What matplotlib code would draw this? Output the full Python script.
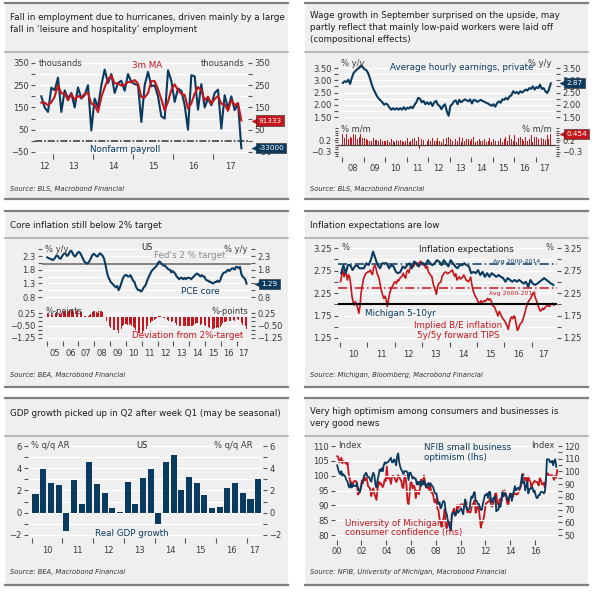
import numpy as np
import pandas as pd
import matplotlib
matplotlib.use("Agg")
import matplotlib.pyplot as plt
from matplotlib.patches import Rectangle
from matplotlib.lines import Line2D
from matplotlib.transforms import blended_transform_factory, ScaledTranslation

# ---------------- data ----------------
# Panel 1: nonfarm payrolls, thousands, monthly from Jul 2012 (first two months only feed the MA)
payroll_start = 2012 + 6 / 12
payroll = [150, 165,
           200, 150, 130, 239,
           227, 284, 130, 227, 190, 215, 150, 240, 190, 205, 250, 47,
           190, 150, 250, 320, 260, 300, 215, 260, 270, 225, 300, 265,
           255, 250, 85, 250, 310, 245, 250, 200, 110, 100, 317, 270,
           175, 235, 225, 160, 50, 295, 290, 140, 255, 150, 190, 160,
           215, 230, 55, 205, 145, 200, 138, 169, -33]
p1_years = [2013, 2014, 2015, 2016, 2017]
p1_labels = ["12", "13", "14", "15", "16", "17"]

# Panel 2: average hourly earnings, private, monthly from Jan 2008
ahe_start = 2008.0
ahe_yy = [2.89, 2.96, 2.93, 3.02, 2.85, 3.10, 3.30, 3.38, 3.45, 3.50, 3.60, 3.55,
          3.45, 3.42, 3.30, 3.10, 2.85, 2.65, 2.50, 2.35, 2.25, 2.18, 2.10, 2.00,
          2.05, 2.00, 1.88, 1.80, 1.86, 1.80, 1.86, 1.80, 1.86, 1.80, 1.90, 1.80,
          1.88, 1.85, 1.92, 1.86, 2.00, 2.10, 2.28, 2.25, 2.10, 2.16, 2.02, 2.10,
          2.02, 2.10, 1.95, 2.10, 2.16, 2.00, 1.95, 1.82, 1.95, 2.02, 1.73, 1.55,
          1.95, 2.02, 2.14, 2.18, 2.02, 2.20, 2.10, 2.16, 2.22, 2.18, 2.14, 2.22,
          2.05, 2.20, 2.18, 2.12, 2.16, 2.20, 2.15, 2.12, 2.08, 2.05, 2.00, 1.96,
          2.02, 1.92, 2.06, 2.14, 2.08, 2.22, 2.20, 2.28, 2.22, 2.34, 2.38, 2.55,
          2.48, 2.52, 2.45, 2.55, 2.50, 2.56, 2.62, 2.58, 2.68, 2.65, 2.75, 2.62,
          2.72, 2.68, 2.82, 2.65, 2.68, 2.55, 2.48, 2.62, 2.87]
ahe_mm = [0.45, 0.3, 0.45, 0.25, 0.35, 0.3, 0.45, 0.4, 0.25, 0.35, 0.45, 0.3,
          0.3, 0.25, 0.2, 0.15, 0.15, 0.3, 0.2, 0.2, 0.15, 0.25, 0.15, 0.15,
          0.15, 0.2, 0.1, 0.25, 0.15, 0.1, 0.2, 0.15, 0.2, 0.15, 0.1, 0.15,
          0.3, 0.1, 0.15, 0.25, 0.3, 0.15, 0.35, -0.2, 0.25, 0.2, -0.05, 0.15,
          0.25, 0.15, 0.3, 0.15, 0.15, 0.3, 0.15, 0.1, 0.25, 0.05, 0.3, 0.35,
          0.25, 0.15, 0.15, 0.25, 0.15, 0.35, 0.1, 0.3, 0.15, 0.25, 0.25, 0.15,
          0.25, 0.35, 0.1, 0.15, 0.25, 0.15, 0.15, 0.25, 0.1, 0.15, 0.3, 0.1,
          0.25, 0.15, 0.3, 0.15, 0.3, 0.1, 0.25, 0.35, 0.15, 0.4, 0.25, 0.15,
          0.4, 0.1, 0.3, 0.35, 0.25, 0.15, 0.35, 0.15, 0.25, 0.4, 0.1, 0.35,
          0.35, 0.25, 0.15, 0.3, 0.25, 0.2, 0.4, 0.25, 0.454]
p2_years = list(range(2008, 2018))
p2_labels = ["08", "09", "10", "11", "12", "13", "14", "15", "16", "17"]

# Panel 3: PCE core, % y/y, monthly from Jan 2005
pce_start = 2005.0
pce_core = [2.25, 2.22, 2.20, 2.18, 2.15, 2.18, 2.25, 2.32, 2.30, 2.22, 2.20, 2.28,
            2.35, 2.40, 2.38, 2.30, 2.35, 2.45, 2.50, 2.42, 2.32, 2.28, 2.35, 2.42,
            2.45, 2.40, 2.30, 2.20, 2.10, 2.05, 2.02, 2.05, 2.12, 2.22, 2.32, 2.38,
            2.35, 2.30, 2.28, 2.35, 2.40, 2.35, 2.30, 2.20, 2.00, 1.75, 1.55, 1.45,
            1.35, 1.30, 1.25, 1.20, 1.15, 1.20, 1.05, 1.15, 1.30, 1.45, 1.55, 1.60,
            1.60, 1.55, 1.55, 1.60, 1.50, 1.40, 1.35, 1.20, 1.10, 1.05, 1.05, 1.00,
            1.05, 1.15, 1.20, 1.30, 1.45, 1.55, 1.65, 1.75, 1.80, 1.85, 1.90, 1.95,
            2.05, 2.10, 2.05, 2.00, 1.95, 1.95, 1.90, 1.85, 1.80, 1.80, 1.70, 1.75,
            1.70, 1.65, 1.55, 1.50, 1.45, 1.50, 1.50, 1.45, 1.50, 1.45, 1.50, 1.50,
            1.50, 1.45, 1.50, 1.55, 1.60, 1.65, 1.65, 1.60, 1.55, 1.60, 1.55, 1.55,
            1.45, 1.40, 1.40, 1.35, 1.35, 1.30, 1.30, 1.35, 1.35, 1.40, 1.35, 1.40,
            1.55, 1.65, 1.70, 1.70, 1.75, 1.80, 1.75, 1.80, 1.85, 1.85, 1.80, 1.90,
            1.90, 1.85, 1.90, 1.65, 1.55, 1.50, 1.45, 1.29]
fed_target = 2.0
p3_years = list(range(2005, 2018))
p3_labels = ["05", "06", "07", "08", "09", "10", "11", "12", "13", "14", "15", "16", "17"]

# Panel 4: inflation expectations
mich_start = 2010.0  # monthly
mich_5_10 = [2.69, 2.87, 2.69, 2.87, 2.87, 2.76, 2.84, 2.87, 2.80, 2.80, 2.80, 2.91,
             2.87, 2.98, 3.17, 3.02, 2.87, 2.80, 2.91, 2.91, 2.91, 2.80, 2.87, 2.84,
             2.72, 2.69, 2.72, 2.84, 2.80, 2.87, 2.91, 2.80, 2.95, 2.91, 2.84, 2.91,
             2.91, 2.87, 2.98, 2.91, 2.87, 2.91, 2.98, 2.95, 2.87, 2.98, 2.91, 2.84,
             2.98, 2.91, 2.84, 2.80, 2.87, 2.87, 2.91, 2.87, 2.84, 2.69, 2.72, 2.69,
             2.76, 2.65, 2.72, 2.61, 2.69, 2.61, 2.69, 2.65, 2.61, 2.65, 2.61, 2.58,
             2.50, 2.58, 2.54, 2.50, 2.54, 2.50, 2.54, 2.50, 2.46, 2.50, 2.39, 2.54,
             2.46, 2.43, 2.46, 2.50, 2.54, 2.58, 2.54, 2.50, 2.46, 2.43]
be_start = 2010.0  # twice a month
be_5y5y = [2.50, 2.65, 2.76, 2.61, 2.70, 2.66, 2.54, 2.66, 2.60, 2.42, 2.18, 2.05,
           1.98, 2.06, 2.00, 1.92, 1.80, 1.95, 2.25, 2.40, 2.55, 2.62, 2.68, 2.70,
           2.72, 2.72, 2.76, 2.70, 2.66, 2.82, 2.87, 2.80, 2.68, 2.63, 2.55, 2.40,
           2.28, 2.20, 2.13, 2.18, 2.10, 1.95, 2.10, 2.24, 2.32, 2.38, 2.42, 2.48,
           2.50, 2.46, 2.54, 2.52, 2.58, 2.60, 2.63, 2.69, 2.62, 2.58, 2.72, 2.76,
           2.70, 2.82, 2.86, 2.87, 2.84, 2.90, 2.91, 2.86, 2.92, 2.88, 2.96, 2.93,
           2.87, 2.91, 2.84, 2.80, 2.84, 2.72, 2.68, 2.64, 2.62, 2.48, 2.38, 2.32,
           2.22, 2.38, 2.46, 2.48, 2.50, 2.62, 2.66, 2.70, 2.72, 2.70, 2.68, 2.70,
           2.72, 2.74, 2.76, 2.68, 2.62, 2.68, 2.54, 2.58, 2.61, 2.56, 2.58, 2.60,
           2.65, 2.60, 2.54, 2.52, 2.50, 2.54, 2.60, 2.45, 2.32, 2.25, 2.18, 2.14,
           2.09, 2.00, 2.04, 2.08, 2.02, 2.06, 2.08, 2.06, 2.10, 2.13, 2.09, 2.12,
           2.08, 1.98, 1.96, 1.94, 1.87, 1.80, 1.74, 1.84, 1.80, 1.74, 1.69, 1.66,
           1.62, 1.57, 1.52, 1.44, 1.58, 1.68, 1.72, 1.68, 1.74, 1.70, 1.55, 1.42,
           1.46, 1.54, 1.58, 1.60, 1.68, 1.76, 1.85, 1.95, 2.02, 2.08, 2.11, 2.14,
           2.22, 2.26, 2.20, 2.13, 2.06, 1.98, 1.91, 1.85, 1.86, 1.91, 1.88, 1.92,
           1.95, 1.98, 1.96, 1.95, 1.98, 2.00, 2.02, 1.98]
mich_avg = 2.89
be_avg = 2.37
ref_level = 2.0
p4_years = list(range(2010, 2018))
p4_labels = ["10", "11", "12", "13", "14", "15", "16", "17"]

# Panel 5: real GDP growth, % q/q AR, quarterly from 2010Q1
gdp_start = 2010.0
gdp = [1.7, 3.9, 2.7, 2.5,
       -1.6, 2.9, 0.8, 4.6,
       2.6, 1.8, 0.45, 0.1,
       2.8, 0.75, 3.1, 3.9,
       -1.0, 4.6, 5.2, 2.0,
       3.2, 2.7, 1.6, 0.45,
       0.55, 2.2, 2.7, 1.75,
       1.2, 3.0]
p5_years = list(range(2010, 2018))
p5_labels = ["10", "11", "12", "13", "14", "15", "16", "17"]

# Panel 6: NFIB (lhs) and University of Michigan (rhs), monthly from Jan 2000
opt_start = 2000.0
nfib = [103.5, 102.0, 101.0, 100.5, 101.5, 100.0, 100.5, 100.0, 99.5, 98.5, 98.0, 96.5,
        96.0, 97.5, 96.0, 97.0, 96.5, 96.5, 96.5, 97.5, 96.0, 95.0, 94.5, 96.0,
        97.5, 98.5, 100.0, 100.5, 101.0, 100.0, 99.5, 99.5, 98.5, 98.0, 100.0, 101.0,
        100.0, 97.0, 96.0, 98.5, 100.0, 102.0, 101.5, 102.5, 101.5, 103.5, 104.5, 104.0,
        104.5, 104.5, 105.0, 105.5, 106.0, 104.5, 104.5, 105.5, 105.0, 103.5, 106.5, 107.5,
        104.5, 103.0, 102.0, 101.5, 100.5, 101.5, 101.5, 101.5, 101.0, 98.5, 101.0, 101.0,
        100.0, 99.0, 99.5, 99.0, 99.0, 97.0, 98.0, 97.0, 98.0, 96.5, 98.0, 97.0,
        98.5, 97.0, 96.0, 97.0, 97.5, 96.5, 97.5, 97.0, 96.5, 96.0, 94.5, 94.0,
        94.0, 92.0, 90.5, 91.0, 89.0, 89.5, 91.0, 91.5, 91.0, 88.0, 87.0, 85.0,
        84.0, 82.5, 81.5, 87.0, 87.5, 87.5, 86.5, 87.5, 88.5, 87.5, 88.0, 88.5,
        89.0, 88.0, 87.0, 90.5, 92.0, 89.0, 88.5, 88.5, 89.0, 91.5, 93.0, 92.5,
        94.0, 94.5, 91.5, 91.5, 90.5, 90.5, 89.5, 88.5, 88.5, 90.5, 92.0, 93.5,
        93.5, 94.0, 92.5, 94.5, 94.5, 91.0, 91.0, 92.5, 92.5, 93.0, 88.0, 88.5,
        88.5, 90.5, 89.5, 92.0, 94.5, 93.0, 94.0, 94.0, 93.0, 91.5, 92.5, 93.0,
        94.0, 91.5, 93.5, 95.0, 96.5, 95.0, 95.5, 96.0, 95.5, 96.0, 98.0, 100.5,
        97.5, 98.0, 95.0, 96.5, 98.0, 94.0, 95.5, 95.5, 96.0, 96.0, 94.5, 95.0,
        93.5, 92.5, 92.5, 93.5, 93.5, 94.5, 94.5, 94.5, 94.0, 94.5, 98.5, 105.5,
        105.5, 105.5, 104.5, 104.5, 105.0, 103.5, 105.0, 105.5, 103.0]
umich = [112.0, 111.3, 107.1, 109.2, 110.7, 106.4, 108.3, 107.3, 106.8, 105.8, 107.6, 98.4,
         94.7, 90.6, 91.5, 88.4, 92.0, 92.6, 92.4, 91.5, 81.8, 82.7, 83.9, 88.8,
         93.0, 90.7, 95.7, 93.0, 96.9, 92.4, 88.1, 87.6, 86.1, 80.6, 84.2, 86.7,
         82.4, 79.9, 77.6, 86.0, 92.1, 89.7, 90.9, 89.3, 87.7, 89.6, 93.7, 92.6,
         103.8, 94.4, 95.8, 94.2, 90.2, 95.6, 96.7, 95.9, 94.2, 91.7, 92.8, 97.1,
         95.5, 94.1, 92.6, 87.7, 86.9, 96.0, 96.5, 89.1, 76.9, 74.2, 81.6, 91.5,
         91.2, 86.7, 88.9, 87.4, 79.1, 84.9, 84.7, 82.0, 85.4, 93.6, 92.1, 91.7,
         96.9, 91.3, 88.4, 87.1, 88.3, 85.3, 90.4, 83.4, 83.4, 80.9, 76.1, 75.5,
         78.4, 70.8, 69.5, 62.6, 59.8, 56.4, 61.2, 63.0, 70.3, 57.6, 55.3, 60.1,
         61.2, 56.3, 57.3, 65.1, 68.7, 70.8, 66.0, 65.7, 73.5, 70.6, 73.4, 72.5,
         74.4, 73.6, 73.6, 72.2, 73.6, 76.0, 67.8, 68.9, 68.2, 67.7, 71.6, 74.5,
         74.2, 77.5, 67.5, 69.8, 74.3, 71.5, 63.7, 55.8, 59.5, 60.8, 63.7, 69.9,
         75.0, 75.3, 76.2, 76.4, 79.3, 73.2, 72.3, 74.3, 78.3, 82.6, 82.7, 72.9,
         73.8, 77.6, 78.6, 76.4, 84.5, 84.1, 85.1, 82.1, 77.5, 73.2, 75.1, 82.5,
         81.2, 81.6, 80.0, 84.1, 81.9, 82.5, 81.8, 82.5, 84.6, 86.9, 88.8, 93.6,
         98.1, 95.4, 93.0, 95.9, 90.7, 96.1, 93.1, 91.9, 87.2, 90.0, 91.3, 92.6,
         92.0, 91.7, 91.0, 89.0, 94.7, 93.5, 90.0, 89.8, 91.2, 87.2, 93.8, 98.2,
         98.5, 96.3, 96.9, 97.0, 97.1, 95.1, 93.4, 96.8, 95.1, 101.1]
p6_years = list(range(2000, 2017, 2))
p6_labels = ["00", "02", "04", "06", "08", "10", "12", "14", "16"]

# ---------------- style ----------------
plt.rcParams['font.family'] = ['DejaVu Sans']
BLUE = '#0b3a5f'
RED = '#c4161c'
BG = '#efefef'
TXT = '#3a3a3a'
TICK = '#555555'
W, H = 600, 592

fig = plt.figure(figsize=(6.0, 5.92), dpi=100)
fig.patch.set_facecolor('white')


def fx(x):
    return x / W


def fy(y):
    return 1 - y / H


def T(x, y, s, **kw):
    kw.setdefault('fontsize', 6)
    kw.setdefault('va', 'center')
    kw.setdefault('color', TXT)
    fig.text(fx(x), fy(y), s, **kw)


def panel(x0, x1, top, sep, bottom, titles, title_y, source, source_y):
    fig.add_artist(Rectangle((fx(x0), fy(bottom)), (x1 - x0) / W, (bottom - top) / H,
                             transform=fig.transFigure, facecolor=BG, edgecolor='none', zorder=-5))
    for y, c, lw in [(top, '#808080', 1.6), (sep, '#a8a8a8', 1.1), (bottom, '#808080', 1.6)]:
        fig.add_artist(Line2D([fx(x0), fx(x1)], [fy(y), fy(y)], color=c, lw=lw,
                              transform=fig.transFigure, zorder=-4))
    for s, y in zip(titles, title_y):
        T(x0 + 5, y, s, fontsize=6.3, color='#1e1e1e')
    T(x0 + 5, source_y, source, fontsize=4.9, style='italic', color='#333333')


def add_ax(l, t, r, b):
    ax = fig.add_axes([l / W, 1 - b / H, (r - l) / W, (b - t) / H])
    ax.set_facecolor('none')
    for s in ax.spines.values():
        s.set_visible(False)
    return ax


def yaxis(ax, major, minor, labels, left=True, right=True, grid=True, gridminor=True):
    ax.set_yticks(major)
    ax.set_yticklabels(labels)
    ax.set_yticks(minor, minor=True)
    ax.tick_params(axis='y', which='both', left=left, right=right, labelleft=left,
                   labelright=right, direction='out', length=3, width=0.8, color=TICK,
                   labelsize=6, labelcolor=TXT, pad=1.5)
    if grid:
        ax.grid(axis='y', which='major', color='white', lw=0.9, zorder=0)
        if gridminor:
            ax.grid(axis='y', which='minor', color='white', lw=0.9, zorder=0)
    ax.set_axisbelow(True)


def xaxis(ax, years, label_pos, labels, length=3.5, pad=5.5):
    ax.set_xticks(years)
    ax.set_xticklabels([])
    ax.set_xticks(label_pos, minor=True)
    ax.set_xticklabels(labels, minor=True)
    ax.tick_params(axis='x', which='major', direction='out', length=length, width=0.8,
                   color=TICK, bottom=True, top=False)
    ax.tick_params(axis='x', which='minor', length=0, labelsize=6, labelcolor=TXT, pad=pad,
                   bottom=True, top=False)


def no_x(ax):
    ax.set_xticks([])
    ax.tick_params(axis='x', which='both', bottom=False, labelbottom=False)


def tag(ax, y, text, color):
    tr = blended_transform_factory(ax.transAxes, ax.transData)
    ax.annotate(text, xy=(1, y), xycoords=tr, xytext=(7.5, 0), textcoords='offset points',
                ha='left', va='center', fontsize=5.2, color='white',
                bbox=dict(boxstyle='square,pad=0.28', fc=color, ec='#2a2a2a', lw=0.4),
                annotation_clip=False, zorder=20)
    ax.plot([1], [y], marker='<', ms=5, color=color, mec='none',
            transform=tr + ScaledTranslation(4.6 / 72, 0, fig.dpi_scale_trans),
            clip_on=False, zorder=19)


def monthly(start, n, per=12):
    return start + (np.arange(n) + 0.5) / per


# ---------------- panels ----------------
L0, L1, R0, R1 = 5, 288, 305, 588
panel(L0, L1, 3, 52, 199,
      ["Fall in employment due to hurricanes, driven mainly by a large",
       "fall in \u2018leisure and hospitality\u2019 employment"], [17, 29],
      "Source: BLS, Macrobond Financial", 189)
panel(R0, R1, 3, 52, 199,
      ["Wage growth in September surprised on the upside, may",
       "partly reflect that mainly low-paid workers were laid off",
       "(compositional effects)"], [16, 28, 40],
      "Source: BLS, Macrobond Financial", 189)
panel(L0, L1, 211, 238, 387, ["Core inflation still below 2% target"], [225],
      "Source: BEA, Macrobond Financial", 375)
panel(R0, R1, 211, 238, 387, ["Inflation expectations are low"], [225],
      "Source: Michigan, Bloomberg, Macrobond Financial", 375)
panel(L0, L1, 398, 436, 585, ["GDP growth picked up in Q2 after week Q1 (may be seasonal)"], [413],
      "Source: BEA, Macrobond Financial", 572)
panel(R0, R1, 398, 436, 585,
      ["Very high optimism among consumers and businesses is", "very good news"], [412, 424],
      "Source: NFIB, University of Michigan, Macrobond Financial", 572)

# ---- Panel 1 ----
ax = add_ax(35, 58.5, 248, 154.2)
s = pd.Series(payroll, index=monthly(payroll_start, len(payroll)))
ma3 = s.rolling(3, min_periods=1).mean()
ax.axhline(0, color='#505050', lw=1.3, ls=(0, (4, 1, 1, 1)), zorder=2)
ax.plot(s.index[2:], s.values[2:], color=BLUE, lw=1.5, zorder=3)
ax.plot(ma3.index[2:], ma3.values[2:], color=RED, lw=1.5, zorder=4)
ax.set_xlim(2012.55, 2017.875)
ax.set_ylim(-60, 370)
yaxis(ax, [350, 250, 150, 50, -50], [300, 200, 100, 0],
      ["350", "250", "150", "50", "\u221250"], gridminor=True)
xaxis(ax, p1_years, [2012.78, 2013.5, 2014.5, 2015.5, 2016.5, 2017.44], p1_labels)
tag(ax, ma3.values[-1], f"{ma3.values[-1] * 1000:.0f}", RED)
tag(ax, s.values[-1], f"{s.values[-1] * 1000:.0f}", BLUE)
T(39, 63, "thousands")
T(245, 63, "thousands", ha='right')
T(147, 65, "3m MA", color=RED, ha='center', fontsize=6.3)
T(125, 150, "Nonfarm payroll", color=BLUE, ha='center', fontsize=6.3)

# ---- Panel 2 ----
ax = add_ax(338, 62, 556, 122)
xs = monthly(ahe_start, len(ahe_yy))
ax.plot(xs, ahe_yy, color=BLUE, lw=1.5, zorder=3)
ax.set_xlim(2007.814, 2017.953)
ax.set_ylim(1.296, 3.745)
yaxis(ax, [3.5, 3.0, 2.5, 2.0, 1.5], [3.25, 2.75, 2.25, 1.75],
      ["3.50", "3.00", "2.50", "2.00", "1.50"])
no_x(ax)
tag(ax, ahe_yy[-1], f"{ahe_yy[-1]:.2f}", BLUE)
T(341, 63, "% y/y")
T(552, 63, "% y/y", ha='right')
T(462, 67, "Average hourly earnings, private", color=BLUE, ha='center', fontsize=6.3)

ax = add_ax(338, 127.5, 556, 156.8)
xs = monthly(ahe_start, len(ahe_mm))
ax.bar(xs, ahe_mm, width=0.045, color=RED, zorder=3)
ax.axhline(0, color='#404040', lw=0.9, zorder=4)
ax.set_xlim(2007.814, 2017.953)
ax.set_ylim(-0.52, 0.74)
yaxis(ax, [0.2, -0.3], [0.7, 0.6, 0.5, 0.4, 0.3, 0.1, 0.0, -0.1, -0.2, -0.4, -0.5],
      ["0.2", "\u22120.3"], grid=False)
ax.tick_params(axis='y', which='minor', length=2.5)
xaxis(ax, p2_years, [y + 0.5 for y in p2_years[:-1]] + [2017.4], p2_labels)
tag(ax, ahe_mm[-1], f"{ahe_mm[-1]:.3f}", RED)
T(341, 129, "% m/m")
T(552, 129, "% m/m", ha='right')

# ---- Panel 3 ----
ax = add_ax(42, 247.8, 251, 301.1)
xs = monthly(pce_start, len(pce_core))
ax.axhline(fed_target, color='#7a7a7a', lw=1.3, zorder=2)
ax.plot(xs, pce_core, color=BLUE, lw=1.5, zorder=3)
ax.set_xlim(2004.703, 2017.906)
ax.set_ylim(0.65, 2.6)
yaxis(ax, [2.3, 1.8, 1.3, 0.8], [2.55, 2.05, 1.55, 1.05],
      ["2.3", "1.8", "1.3", "0.8"])
no_x(ax)
tag(ax, pce_core[-1], f"{pce_core[-1]:.2f}", BLUE)
T(45, 249, "% y/y")
T(248, 249, "% y/y", ha='right')
T(147, 248, "US", ha='center', color='#1e1e1e')
T(190, 255, "Fed's 2 % target", ha='center', color='#8a8a8a', fontsize=6.3)
T(200, 292, "PCE core", ha='center', color=BLUE, fontsize=6.3)

ax = add_ax(42, 309.7, 251, 341.3)
dev = np.array(pce_core) - fed_target
ax.bar(xs, dev, width=0.05, color=RED, zorder=3)
ax.set_xlim(2004.703, 2017.906)
ax.set_ylim(-1.45, 0.45)
yaxis(ax, [0.25, -0.5, -1.25], [0.0, -0.25, -0.75, -1.0],
      ["0.25", "\u22120.50", "\u22121.25"], gridminor=False)
xaxis(ax, p3_years, [y + 0.5 for y in p3_years[:-1]] + [2017.42], p3_labels)
T(45, 311, "%-points")
T(248, 311, "%-points", ha='right')
T(188, 336, "Deviation from 2%-target", ha='center', color=RED, fontsize=6.3)

# ---- Panel 4 ----
ax = add_ax(338, 241, 557, 342)
ax.axhline(mich_avg, color=BLUE, lw=1.1, ls=(0, (6, 2, 1, 2)), zorder=2)
ax.axhline(be_avg, color=RED, lw=1.1, ls=(0, (6, 2, 1, 2)), zorder=2)
ax.plot(monthly(be_start, len(be_5y5y), 24), be_5y5y, color=RED, lw=1.2, zorder=3)
ax.plot(monthly(mich_start, len(mich_5_10)), mich_5_10, color=BLUE, lw=1.5, zorder=4)
ax.axhline(ref_level, color='black', lw=1.5, zorder=5)
ax.set_xlim(2009.927, 2017.926)
ax.set_ylim(1.161, 3.406)
yaxis(ax, [3.25, 2.75, 2.25, 1.75, 1.25], [3.0, 2.5, 2.0, 1.5],
      ["3.25", "2.75", "2.25", "1.75", "1.25"])
xaxis(ax, p4_years, [y + 0.5 for y in p4_years[:-1]] + [2017.42], p4_labels)
T(342, 248, "%")
T(554, 248, "%", ha='right')
T(466, 249, "Inflation expectations", ha='center', color='#1e1e1e', fontsize=6.3)
T(517, 261, "Avg 2000-2014", ha='center', color=BLUE, fontsize=4.5)
T(513, 293, "Avg 2000-2014", ha='center', color=RED, fontsize=4.5)
T(400, 313, "Michigan 5-10yr", ha='center', color=BLUE, fontsize=6.3)
T(458, 326, "Implied B/E inflation", ha='center', color=RED, fontsize=6.3)
T(458, 335, "5y/5y forward TIPS", ha='center', color=RED, fontsize=6.3)

# ---- Panel 5 ----
ax = add_ax(28, 442.7, 263, 538.3)
ax.bar(gdp_start + (np.arange(len(gdp)) + 0.5) / 4, gdp, width=0.2, color=BLUE, zorder=3)
ax.set_xlim(2009.879, 2017.534)
ax.set_ylim(-2.3, 6.3)
yaxis(ax, [6, 4, 2, 0, -2], [5, 3, 1, -1], ["6", "4", "2", "0", "\u22122"])
xaxis(ax, p5_years, [y + 0.5 for y in p5_years[:-1]] + [2017.27], p5_labels)
T(31, 446, "% q/q AR")
T(253, 446, "% q/q AR", ha='right')
T(142, 446, "US", ha='center', color='#1e1e1e')
T(132, 533, "Real GDP growth", ha='center', color=BLUE, fontsize=6.3)

# ---- Panel 6 ----
ax = add_ax(335, 441.5, 558, 539.5)
ax2 = ax.twinx()
ax2.set_facecolor('none')
for sp in ax2.spines.values():
    sp.set_visible(False)
ax2.plot(monthly(opt_start, len(umich)), umich, color=RED, lw=1.3, zorder=3)
ax.plot(monthly(opt_start, len(nfib)), nfib, color=BLUE, lw=1.3, zorder=4)
ax.set_zorder(ax2.get_zorder() + 1)
ax.set_xlim(1999.863, 2017.85)
left_lim = (78.49, 111.52)
ax.set_ylim(*left_lim)
# right axis: 80 (lhs) <-> 50 (rhs), 110 (lhs) <-> 120 (rhs)
ax2.set_ylim(*[50 + (v - 80) * 70 / 30 for v in left_lim])
yaxis(ax, [110, 105, 100, 95, 90, 85, 80], [], ["110", "105", "100", "95", "90", "85", "80"],
      right=False)
ax2.set_yticks([120, 110, 100, 90, 80, 70, 60, 50])
ax2.set_yticklabels(["120", "110", "100", "90", "80", "70", "60", "50"])
ax2.set_yticks([115, 105, 95, 85, 75, 65, 55], minor=True)
ax2.tick_params(axis='y', which='both', right=True, labelright=True, direction='out', length=3,
                width=0.8, color=TICK, labelsize=6, labelcolor=TXT, pad=1.5)
ax2.set_xticks([])
ax.set_xticks(p6_years)
ax.set_xticklabels(p6_labels)
ax.tick_params(axis='x', which='major', direction='out', length=3.5, width=0.8, color=TICK,
               labelsize=6, labelcolor=TXT, pad=2)
T(338, 446, "Index")
T(554, 446, "Index", ha='right')
T(424, 447, "NFIB small business", color=BLUE, fontsize=6.3)
T(424, 457, "optimism (lhs)", color=BLUE, fontsize=6.3)
T(345, 524, "University of Michigan,", color=RED, fontsize=6.3)
T(345, 533, "consumer confidence (rhs)", color=RED, fontsize=6.3)

fig.savefig("out.png", dpi=100, facecolor='white')
